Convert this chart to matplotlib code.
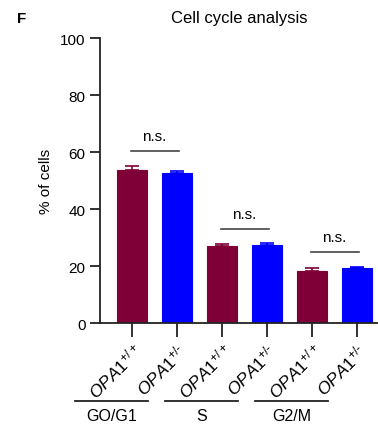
import matplotlib
matplotlib.use("Agg")
import matplotlib.pyplot as plt
import numpy as np

plt.rcParams['font.family'] = ['Liberation Sans', 'DejaVu Sans']
plt.rcParams['mathtext.fontset'] = 'custom'
plt.rcParams['mathtext.rm'] = 'Liberation Sans'
plt.rcParams['mathtext.it'] = 'Liberation Sans:italic'

groups = ["GO/G1", "S", "G2/M"]
genotypes = ["+/+", "+/-"]
means = [53.7, 52.6, 27.1, 27.5, 18.4, 19.2]
errs = [1.6, 0.7, 0.7, 0.5, 1.1, 0.4]
colors = ["#7f0037", "#0000ff"] * 3
sig_heights = [60.5, 33.0, 24.8]

fig = plt.figure(figsize=(3.78, 4.27), dpi=100)
ax = fig.add_axes([0.2646, 0.2412, 0.7354, 0.6663])

x = np.arange(len(means))
ax.bar(x, means, width=0.667, color=colors, edgecolor=colors, linewidth=0.8, zorder=2)
for xi, m, e, c in zip(x, means, errs, colors):
    ax.errorbar(xi, m, yerr=[[0], [e]], color=c, capsize=5, capthick=1.2, elinewidth=1.2, zorder=3)

ax.set_xlim(-0.70, 5.47)
ax.set_ylim(0, 100)
ax.set_yticks([0, 20, 40, 60, 80, 100])
ax.spines['top'].set_visible(False)
ax.spines['right'].set_visible(False)
for s in ['left', 'bottom']:
    ax.spines[s].set_linewidth(1.3)
    ax.spines[s].set_color('#222222')
ax.tick_params(axis='y', length=7.5, width=1.3, labelsize=11, color='#222222', pad=3)
ax.tick_params(axis='x', length=10, width=1.3, color='#222222', pad=2)
ax.set_xticks(x)
labels = [r"$\mathit{OPA1}^{\mathit{+/" + g[-1] + "}}$" if g[-1] == "+"
          else r"$\mathit{OPA1}^{\mathit{+/}\text{-}}$" for g in genotypes * 3]
ax.set_xticklabels(labels, rotation=45, ha='right', rotation_mode='anchor', fontsize=12.5)

ax.set_ylabel("% of cells", fontsize=11, labelpad=5)
ax.set_title("Cell cycle analysis", fontsize=12, pad=12, x=0.5)
fig.text(0.045, 0.955, "F", fontsize=11, fontweight='bold', va='center')

# significance lines
for i, h in enumerate(sig_heights):
    ax.plot([2 * i - 0.02, 2 * i + 1.05], [h, h], color='#444444', lw=1.2, clip_on=False)
    ax.text(2 * i + 0.5, h + 2.8, "n.s.", ha='center', va='bottom', fontsize=11)

# group labels under rotated ticks
for i, g in enumerate(groups):
    x0 = 2 * i - 1.26
    x1 = 2 * i + 0.36
    ax.plot([x0, x1], [-27.5, -27.5], color='#222222', lw=1.3, clip_on=False)
    ax.text((x0 + x1) / 2, -30, g, ha='center', va='top', fontsize=11.5)

fig.savefig("out.png", dpi=100)
